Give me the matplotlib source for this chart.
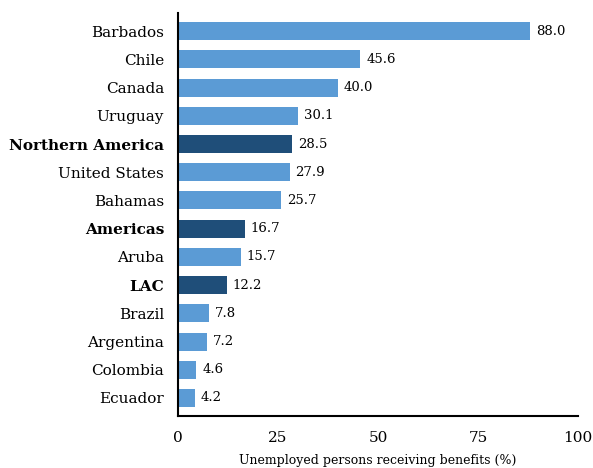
import matplotlib.pyplot as plt

countries = ["Barbados", "Chile", "Canada", "Uruguay", "Northern America",
             "United States", "Bahamas", "Americas", "Aruba", "LAC",
             "Brazil", "Argentina", "Colombia", "Ecuador"]
values = [88.0, 45.6, 40.0, 30.1, 28.5, 27.9, 25.7, 16.7, 15.7, 12.2,
          7.8, 7.2, 4.6, 4.2]
regions = ["Northern America", "Americas", "LAC"]

plt.rcParams["font.family"] = ["DejaVu Serif"]

fig = plt.figure(figsize=(5.93, 4.68), dpi=100)
ax = fig.add_axes([0.300, 0.111, 0.675, 0.861])

colors = ["#1f4e79" if c in regions else "#5b9bd5" for c in countries]
y = list(range(len(countries)))
ax.barh(y, values, height=0.64, color=colors)

for yi, v in zip(y, values):
    ax.text(v + 1.5, yi, f"{v:.1f}", va="center", ha="left", fontsize=9.5)

ax.set_yticks(y)
ax.set_yticklabels(countries, fontsize=11)
for lbl in ax.get_yticklabels():
    if lbl.get_text() in regions:
        lbl.set_fontweight("bold")
ax.set_ylim(13.64, -0.64)
ax.set_xlim(0, 100)
ax.set_xticks([0, 25, 50, 75, 100])
ax.tick_params(axis="x", labelsize=11, length=0, pad=11)
ax.tick_params(axis="y", length=0, pad=10)
ax.set_xlabel("Unemployed persons receiving benefits (%)", fontsize=9, labelpad=6)

for s in ["top", "right"]:
    ax.spines[s].set_visible(False)
ax.spines["left"].set_linewidth(1.5)
ax.spines["bottom"].set_linewidth(1.5)

fig.savefig("out.png", dpi=100)
